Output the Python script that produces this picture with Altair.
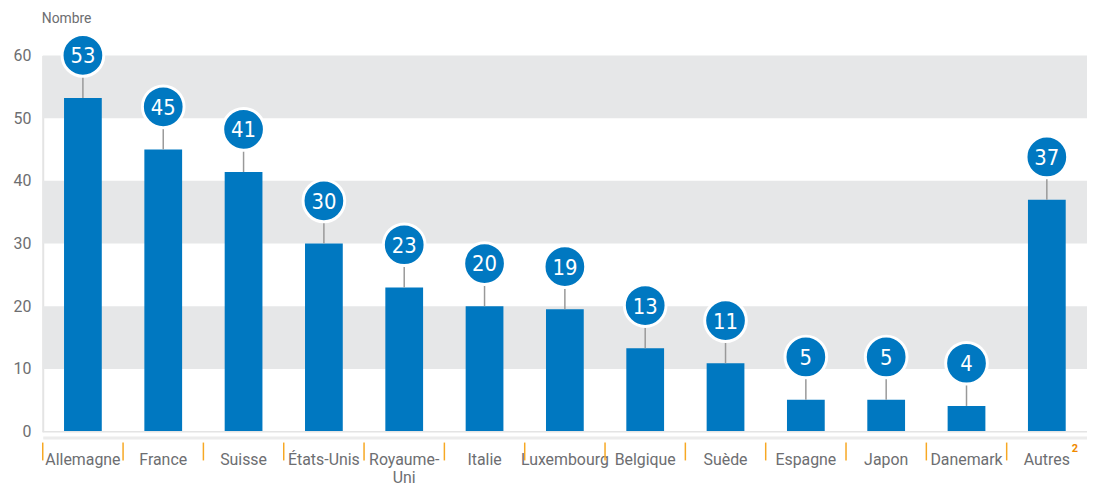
import altair as alt
import pandas as pd

countries = ["Allemagne", "France", "Suisse", "États-Unis", "Royaume-Uni", "Italie",
             "Luxembourg", "Belgique", "Suède", "Espagne", "Japon", "Danemark", "Autres"]
values = [53.2, 45.0, 41.4, 30.0, 23.0, 20.0, 19.5, 13.3, 10.9, 5.1, 5.1, 4.1, 37.0]
labels = ["53", "45", "41", "30", "23", "20", "19", "13", "11", "5", "5", "4", "37"]
band_lo = [10, 30, 50]
band_hi = [20, 40, 60]
y_ticks = [0, 10, 20, 30, 40, 50, 60]

W, H = 1052, 379
STEP = W / 13
BLUE = "#0078c1"
GREY_TXT = "#6d6e71"
ORANGE = "#f7a823"
FONT = "Roboto"
NUM_FONT = "'Liberation Sans Narrow', 'DejaVu Sans Condensed', Roboto, sans-serif"

df = pd.DataFrame({"country": countries, "value": values, "label": labels})
bands = pd.DataFrame({"lo": band_lo, "hi": band_hi})

xscale = alt.Scale(domain=countries, paddingInner=0.53, paddingOuter=0.265)
yscale = alt.Scale(domain=[0, 60], nice=False)

yaxis = alt.Axis(title=None, values=y_ticks, grid=False, ticks=False, domain=True,
                 domainColor="#e4e4e4", domainWidth=2, labelFont=FONT,
                 labelFontSize=16, labelColor=GREY_TXT, labelPadding=12)

bg = alt.Chart(bands).mark_rect(color="#e6e7e8").encode(
    x=alt.value(0), x2=alt.value(W),
    y=alt.Y("lo:Q", scale=yscale, axis=yaxis), y2="hi:Q")

base = alt.Chart(df)

bars = base.mark_bar(color=BLUE).encode(
    x=alt.X("country:N", scale=xscale, sort=countries,
            axis=alt.Axis(title=None, ticks=False, domain=True, domainColor="#ececec",
                          domainWidth=3, offset=6, labelAngle=0, labelFont=FONT,
                          labelFontSize=16, labelColor=GREY_TXT, labelPadding=14,
                          labelBaseline="top",
                          labelExpr="datum.label == 'Royaume-Uni' ? ['Royaume-', 'Uni'] : datum.label")),
    y=alt.Y("value:Q", scale=yscale, axis=yaxis))

zero = alt.Chart(pd.DataFrame({"z": [0]})).mark_rule(color="#e4e4e4", strokeWidth=1.5).encode(
    y=alt.Y("z:Q", scale=yscale), x=alt.value(0), x2=alt.value(W))

conn = base.mark_rule(color="#999999", strokeWidth=1.5, y2Offset=-25).encode(
    x=alt.X("country:N", scale=xscale, sort=countries),
    y=alt.Y("value:Q", scale=yscale), y2="value:Q")

circles = base.mark_circle(color=BLUE, opacity=1, size=1764, stroke="white",
                           strokeWidth=3, yOffset=-43).encode(
    x=alt.X("country:N", scale=xscale, sort=countries),
    y=alt.Y("value:Q", scale=yscale))

nums = base.mark_text(color="white", font=NUM_FONT, fontSize=22, baseline="middle",
                      align="center", yOffset=-42).encode(
    x=alt.X("country:N", scale=xscale, sort=countries),
    y=alt.Y("value:Q", scale=yscale),
    text="label:N")

ticks = base.mark_rule(color=ORANGE, strokeWidth=1.5, xOffset=-STEP * 0.53 / 2).encode(
    x=alt.X("country:N", scale=xscale, sort=countries, bandPosition=0),
    y=alt.value(H + 11), y2=alt.value(H + 29))

sup = alt.Chart(pd.DataFrame({"country": ["Autres"], "t": ["2"]})).mark_text(
    color="#f08a00", font=FONT, fontSize=11, fontWeight="bold", dx=25, align="left",
    baseline="middle").encode(
    x=alt.X("country:N", scale=xscale, sort=countries),
    y=alt.value(H + 18), text="t:N")

title = alt.Chart(pd.DataFrame({"t": ["Nombre"]})).mark_text(
    color=GREY_TXT, font=FONT, fontSize=14, align="left", baseline="middle").encode(
    x=alt.value(-1), y=alt.value(-37), text="t:N")

chart = alt.layer(bg, bars, zero, conn, circles, nums, ticks, sup, title).properties(
    width=W, height=H,
    autosize=alt.AutoSizeParams(type="none"),
    padding={"left": 35, "top": 46, "right": 0, "bottom": 55},
).configure_view(stroke=None)

chart.save("out.html", embed_options={"renderer": "svg", "actions": False})
